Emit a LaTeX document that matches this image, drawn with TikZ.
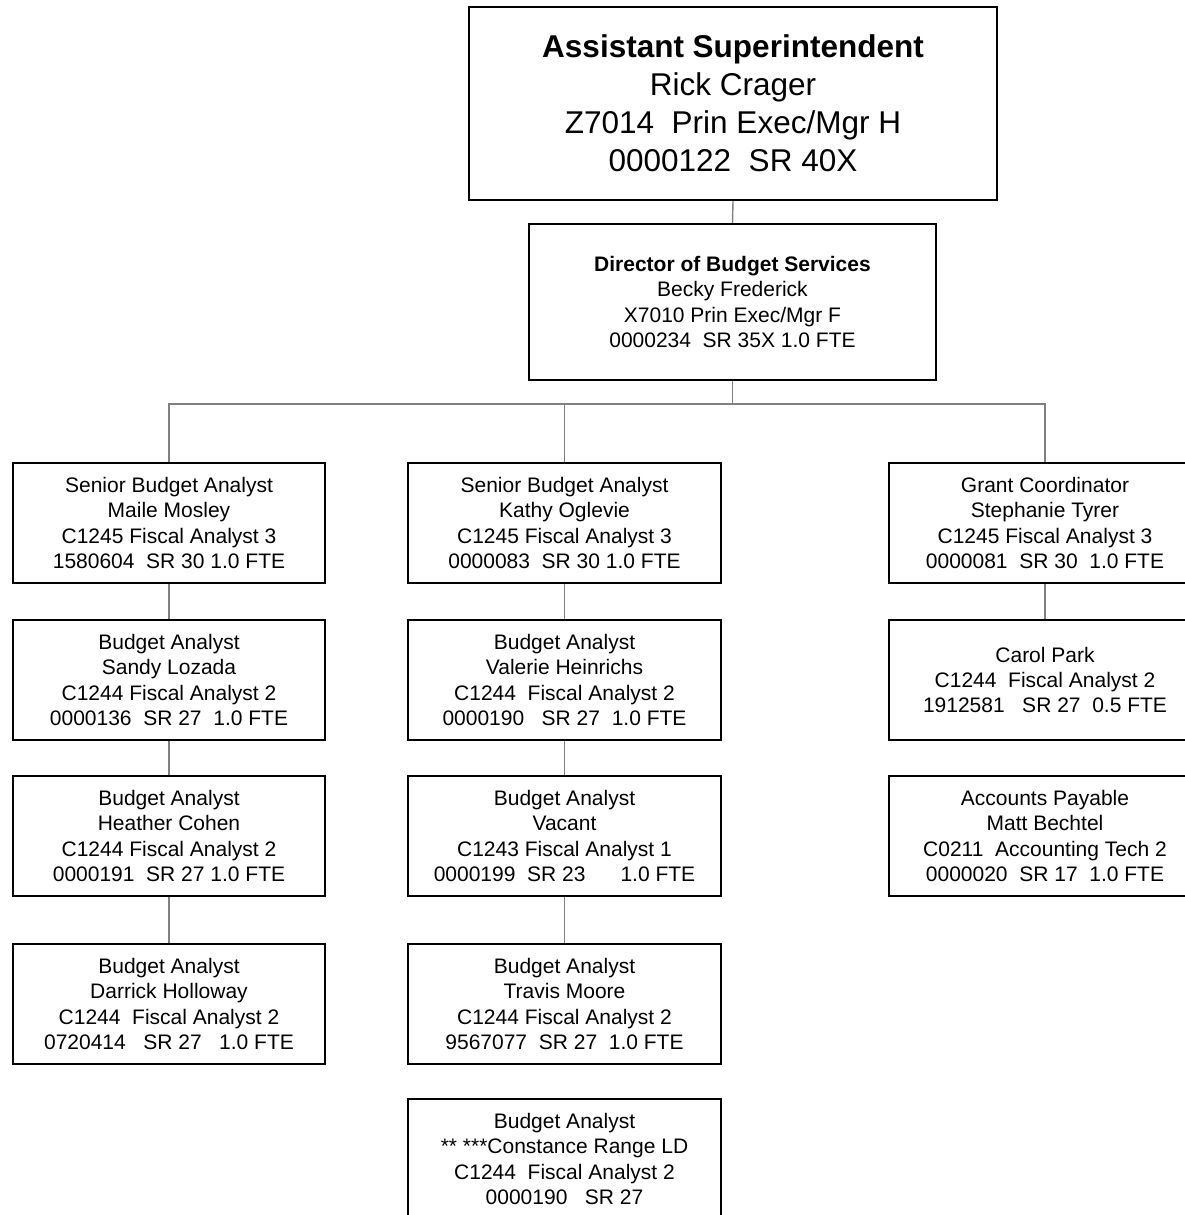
\documentclass[tikz,border=0pt]{standalone}
\usepackage{fontspec}
\setmainfont{Liberation Sans}
\begin{document}
\begin{tikzpicture}[x=1pt,y=-1pt,
  posbox/.style={draw=black, line width=2pt, inner sep=0pt, align=center,
    minimum width=312, minimum height=120,
    font=\fontsize{21}{25.3}\selectfont},
  headbox/.style={posbox, minimum width=528, minimum height=193,
    font=\fontsize{31.5}{38}\selectfont},
  dirbox/.style={posbox, minimum width=407, minimum height=156},
  conn/.style={draw=black!50, line width=1.4pt}
]
\useasboundingbox (0,0) rectangle (1184,1215);

% top of the chart
\node[headbox] (sup) at (733,103.5) {\textbf{Assistant Superintendent}\\Rick Crager\\Z7014~~Prin Exec/Mgr H\\0000122~~SR 40X};
\node[dirbox] (dir) at (732.5,302) {\textbf{Director of Budget Services}\\Becky Frederick\\X7010 Prin Exec/Mgr F\\0000234~~SR 35X 1.0 FTE};

% left column
\node[posbox] (a1) at (169,523) {Senior Budget Analyst\\Maile Mosley\\C1245 Fiscal Analyst 3\\1580604~~SR 30 1.0 FTE};
\node[posbox] (a2) at (169,680) {Budget Analyst\\Sandy Lozada\\C1244 Fiscal Analyst 2\\0000136~~SR 27~~1.0 FTE};
\node[posbox] (a3) at (169,836) {Budget Analyst\\Heather Cohen\\C1244 Fiscal Analyst 2\\0000191~~SR 27 1.0 FTE};
\node[posbox] (a4) at (169,1004) {Budget Analyst\\Darrick Holloway\\C1244~~Fiscal Analyst 2\\0720414~~~SR 27~~~1.0 FTE};

% middle column
\node[posbox, minimum width=313] (b1) at (564.5,523) {Senior Budget Analyst\\Kathy Oglevie\\C1245 Fiscal Analyst 3\\0000083~~SR 30 1.0 FTE};
\node[posbox, minimum width=313] (b2) at (564.5,680) {Budget Analyst\\Valerie Heinrichs\\C1244~~Fiscal Analyst 2\\0000190~~~SR 27~~1.0 FTE};
\node[posbox, minimum width=313] (b3) at (564.5,836) {Budget Analyst\\Vacant\\C1243 Fiscal Analyst 1\\0000199~~SR 23~~~~~~1.0 FTE};
\node[posbox, minimum width=313] (b4) at (564.5,1004) {Budget Analyst\\Travis Moore\\C1244 Fiscal Analyst 2\\9567077~~SR 27~~1.0 FTE};
\node[posbox, minimum width=313] (b5) at (564.5,1159) {Budget Analyst\\** ***Constance Range LD\\C1244~~Fiscal Analyst 2\\0000190~~~SR 27};

% right column
\node[posbox] (c1) at (1045,523) {Grant Coordinator\\Stephanie Tyrer\\C1245 Fiscal Analyst 3\\0000081~~SR 30~~1.0 FTE};
\node[posbox] (c2) at (1045,680) {Carol Park\\C1244~~Fiscal Analyst 2\\1912581~~~SR 27~~0.5 FTE};
\node[posbox] (c3) at (1045,836) {Accounts Payable\\Matt Bechtel\\C0211~~Accounting Tech 2\\0000020~~SR 17~~1.0 FTE};

% reporting lines
\coordinate (bus) at (0,404);
\draw[conn] (sup.south) -- (dir.north);
\draw[conn] (dir.south) -- (dir.south |- bus);
\draw[conn] (a1.north) -- (a1.north |- bus) -- (c1.north |- bus) -- (c1.north);
\draw[conn] (b1.north) -- (b1.north |- bus);
\draw[conn] (a1.south) -- (a2.north);
\draw[conn] (a2.south) -- (a3.north);
\draw[conn] (a3.south) -- (a4.north);
\draw[conn] (b1.south) -- (b2.north);
\draw[conn] (b2.south) -- (b3.north);
\draw[conn] (b3.south) -- (b4.north);
\draw[conn] (c1.south) -- (c2.north);
\end{tikzpicture}
\end{document}
